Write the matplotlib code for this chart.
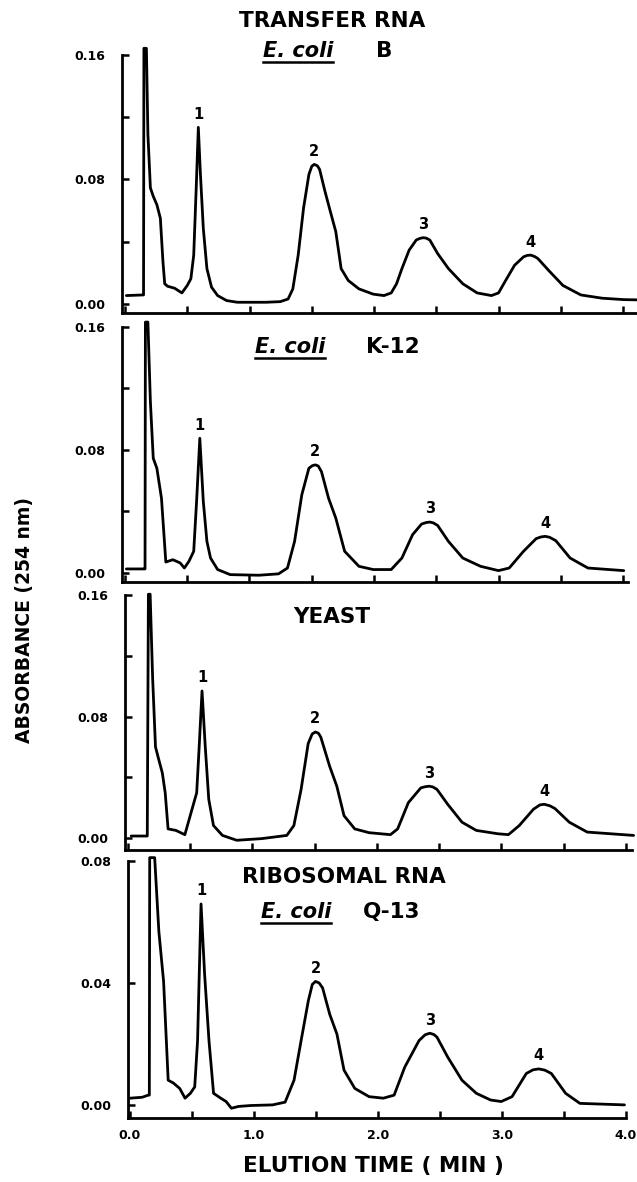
import numpy as np
import matplotlib
matplotlib.use("Agg")
import matplotlib.pyplot as plt
from matplotlib.lines import Line2D
from matplotlib.transforms import IdentityTransform

# ---------------- data ----------------
# Panel 1: Transfer RNA, E. coli B
p1_time = [0.011, 0.144, 0.149, 0.152, 0.172, 0.184, 0.204, 0.227, 0.256, 0.284,
           0.305, 0.319, 0.342, 0.399, 0.457, 0.500, 0.529, 0.552, 0.572, 0.589,
           0.606, 0.629, 0.658, 0.695, 0.744, 0.816, 0.902, 1.132, 1.247, 1.310,
           1.348, 1.391, 1.434, 1.477, 1.500, 1.520, 1.545, 1.563, 1.606, 1.649,
           1.693, 1.736, 1.793, 1.879, 1.994, 2.080, 2.138, 2.181, 2.224, 2.282,
           2.339, 2.370, 2.397, 2.420, 2.448, 2.511, 2.598, 2.713, 2.828, 2.943,
           3.000, 3.057, 3.129, 3.201, 3.230, 3.259, 3.290, 3.316, 3.402, 3.517,
           3.661, 3.833, 4.006, 4.144]
p1_abs = [0.0054, 0.0058, 0.0058, 0.1643, 0.1643, 0.1092, 0.0746, 0.0692, 0.0638, 0.0551,
          0.0270, 0.0130, 0.0114, 0.0101, 0.0071, 0.0119, 0.0162, 0.0314, 0.0746, 0.1135,
          0.0832, 0.0486, 0.0227, 0.0108, 0.0054, 0.0022, 0.0011, 0.0011, 0.0015, 0.0032,
          0.0097, 0.0314, 0.0616, 0.0832, 0.0885, 0.0897, 0.0888, 0.0865, 0.0724, 0.0595,
          0.0465, 0.0227, 0.0151, 0.0097, 0.0063, 0.0054, 0.0071, 0.0130, 0.0227, 0.0346,
          0.0411, 0.0422, 0.0426, 0.0423, 0.0411, 0.0324, 0.0227, 0.0130, 0.0071, 0.0054,
          0.0071, 0.0151, 0.0249, 0.0303, 0.0312, 0.0314, 0.0305, 0.0292, 0.0216, 0.0119,
          0.0058, 0.0037, 0.0028, 0.0026]
p1_peak_time = [0.589, 1.520, 2.397, 3.259]
p1_peak_abs = [0.1135, 0.0897, 0.0426, 0.0314]

# Panel 2: Transfer RNA, E. coli K-12
p2_time = [0.011, 0.155, 0.161, 0.164, 0.184, 0.204, 0.227, 0.256, 0.293, 0.328,
           0.385, 0.443, 0.477, 0.514, 0.552, 0.575, 0.601, 0.629, 0.658, 0.687,
           0.744, 0.845, 1.075, 1.233, 1.305, 1.362, 1.420, 1.477, 1.505, 1.529,
           1.552, 1.578, 1.635, 1.693, 1.764, 1.879, 1.994, 2.138, 2.224, 2.310,
           2.382, 2.420, 2.448, 2.475, 2.511, 2.598, 2.713, 2.856, 3.000, 3.086,
           3.201, 3.302, 3.340, 3.374, 3.410, 3.460, 3.575, 3.718, 4.006]
p2_abs = [0.0026, 0.0026, 0.0026, 0.1632, 0.1632, 0.1114, 0.0746, 0.0681, 0.0486, 0.0071,
          0.0086, 0.0065, 0.0032, 0.0076, 0.0141, 0.0465, 0.0876, 0.0465, 0.0205, 0.0097,
          0.0022, -0.0011, -0.0015, -0.0006, 0.0032, 0.0205, 0.0508, 0.0681, 0.0698, 0.0703,
          0.0696, 0.0659, 0.0486, 0.0357, 0.0141, 0.0043, 0.0022, 0.0022, 0.0097, 0.0249,
          0.0318, 0.0328, 0.0331, 0.0326, 0.0309, 0.0205, 0.0097, 0.0043, 0.0015, 0.0032,
          0.0141, 0.0223, 0.0234, 0.0238, 0.0232, 0.0210, 0.0097, 0.0032, 0.0015]
p2_peak_time = [0.601, 1.529, 2.448, 3.374]
p2_peak_abs = [0.0876, 0.0703, 0.0331, 0.0238]

# Panel 3: Transfer RNA, yeast
p3_time = [0.026, 0.155, 0.164, 0.178, 0.198, 0.221, 0.241, 0.276, 0.299, 0.322,
           0.385, 0.457, 0.500, 0.552, 0.572, 0.595, 0.621, 0.649, 0.687, 0.759,
           0.874, 1.075, 1.276, 1.333, 1.391, 1.448, 1.480, 1.506, 1.530, 1.549,
           1.621, 1.678, 1.736, 1.822, 1.937, 2.109, 2.167, 2.253, 2.353, 2.390,
           2.420, 2.450, 2.483, 2.569, 2.684, 2.799, 2.971, 3.057, 3.144, 3.259,
           3.310, 3.345, 3.390, 3.431, 3.546, 3.690, 4.063]
p3_abs = [0.0013, 0.0013, 0.1605, 0.1605, 0.1054, 0.0600, 0.0536, 0.0428, 0.0298, 0.0060,
          0.0050, 0.0022, 0.0147, 0.0298, 0.0600, 0.0968, 0.0600, 0.0255, 0.0082, 0.0017,
          -0.0015, -0.0004, 0.0017, 0.0082, 0.0320, 0.0622, 0.0685, 0.0698, 0.0690, 0.0665,
          0.0471, 0.0341, 0.0147, 0.0060, 0.0035, 0.0022, 0.0060, 0.0233, 0.0330, 0.0338,
          0.0341, 0.0336, 0.0320, 0.0222, 0.0104, 0.0050, 0.0028, 0.0022, 0.0082, 0.0190,
          0.0218, 0.0222, 0.0212, 0.0194, 0.0104, 0.0039, 0.0017]
p3_peak_time = [0.595, 1.506, 2.420, 3.345]
p3_peak_abs = [0.0968, 0.0698, 0.0341, 0.0222]

# Panel 4: Ribosomal RNA, E. coli Q-13
p4_time = [0.000, 0.098, 0.147, 0.156, 0.159, 0.199, 0.233, 0.271, 0.308, 0.349,
           0.401, 0.444, 0.487, 0.522, 0.545, 0.573, 0.602, 0.637, 0.674, 0.732,
           0.775, 0.818, 0.876, 0.977, 1.150, 1.251, 1.323, 1.380, 1.438, 1.470,
           1.496, 1.525, 1.553, 1.611, 1.669, 1.726, 1.813, 1.928, 2.043, 2.130,
           2.216, 2.331, 2.380, 2.418, 2.450, 2.476, 2.562, 2.677, 2.793, 2.908,
           2.994, 3.081, 3.196, 3.250, 3.297, 3.345, 3.398, 3.513, 3.628, 3.988]
p4_abs = [0.0022, 0.0025, 0.0032, 0.0032, 0.0811, 0.0811, 0.0568, 0.0405, 0.0081, 0.0072,
          0.0054, 0.0022, 0.0038, 0.0059, 0.0211, 0.0659, 0.0427, 0.0211, 0.0038, 0.0022,
          0.0011, -0.0011, -0.0005, -0.0002, 0.0000, 0.0009, 0.0081, 0.0211, 0.0341, 0.0395,
          0.0405, 0.0400, 0.0384, 0.0297, 0.0232, 0.0114, 0.0054, 0.0027, 0.0022, 0.0032,
          0.0124, 0.0211, 0.0230, 0.0235, 0.0231, 0.0222, 0.0157, 0.0081, 0.0038, 0.0016,
          0.0011, 0.0027, 0.0103, 0.0115, 0.0118, 0.0114, 0.0103, 0.0038, 0.0005, 0.0000]
p4_peak_time = [0.573, 1.496, 2.418, 3.297]
p4_peak_abs = [0.0659, 0.0405, 0.0235, 0.0118]

peak_labels = ["1", "2", "3", "4"]
yticks_trna = [0.00, 0.04, 0.08, 0.12, 0.16]
yticklabels_trna = ["0.00", "", "0.08", "", "0.16"]
yticks_rrna = [0.00, 0.04, 0.08]
yticklabels_rrna = ["0.00", "0.04", "0.08"]
xticks_major = [0.0, 1.0, 2.0, 3.0, 4.0]
xticklabels = ["0.0", "1.0", "2.0", "3.0", "4.0"]
xticks_minor = [0.5, 1.5, 2.5, 3.5]

# ---------------- figure ----------------
W, H = 637, 1182
plt.rcParams["font.family"] = ["DejaVu Sans"]
fig = plt.figure(figsize=(W / 100, H / 100), dpi=100)


def box(left, top, right, bottom):
    return [left / W, 1 - bottom / H, (right - left) / W, (bottom - top) / H]


panels = [
    dict(rect=box(122, 55, 637, 313), t=p1_time, a=p1_abs, pt=p1_peak_time, pa=p1_peak_abs,
         xlim=(-0.024, 4.112), ylim=(-0.0058, 0.16), yt=yticks_trna, ytl=yticklabels_trna,
         xlab=False),
    dict(rect=box(122, 327, 628, 582), t=p2_time, a=p2_abs, pt=p2_peak_time, pa=p2_peak_abs,
         xlim=(-0.024, 4.04), ylim=(-0.0059, 0.16), yt=yticks_trna, ytl=yticklabels_trna,
         xlab=False),
    dict(rect=box(125, 595, 632, 850), t=p3_time, a=p3_abs, pt=p3_peak_time, pa=p3_peak_abs,
         xlim=(-0.024, 4.05), ylim=(-0.0079, 0.16), yt=yticks_trna, ytl=yticklabels_trna,
         xlab=False),
    dict(rect=box(128, 861, 626, 1118), t=p4_time, a=p4_abs, pt=p4_peak_time, pa=p4_peak_abs,
         xlim=(-0.016, 4.0), ylim=(-0.0043, 0.08), yt=yticks_rrna, ytl=yticklabels_rrna,
         xlab=True),
]

axes = []
for p in panels:
    ax = fig.add_axes(p["rect"])
    ax.plot(p["t"], p["a"], color="black", lw=2.0, solid_joinstyle="round",
            solid_capstyle="round", clip_on=False)
    ax.set_xlim(*p["xlim"])
    ax.set_ylim(*p["ylim"])
    for s in ("top", "right"):
        ax.spines[s].set_visible(False)
    for s in ("left", "bottom"):
        ax.spines[s].set_linewidth(2.0)
    ax.set_yticks(p["yt"])
    ax.set_yticklabels(p["ytl"], fontsize=9, fontweight="bold")
    ax.set_xticks(xticks_major)
    ax.set_xticks(xticks_minor, minor=True)
    if p["xlab"]:
        ax.set_xticklabels(xticklabels, fontsize=9, fontweight="bold")
    else:
        ax.set_xticklabels([])
    ax.tick_params(axis="both", which="both", direction="in", length=5, width=1.8)
    ax.tick_params(axis="y", pad=12)
    ax.tick_params(axis="x", pad=8)
    for lab, x, y in zip(peak_labels, p["pt"], p["pa"]):
        ax.annotate(lab, xy=(x, y), xytext=(0, 4), textcoords="offset points",
                    ha="center", va="bottom", fontsize=10.5, fontweight="bold")
    axes.append(ax)


def ftext(px, py, s, **kw):
    return fig.text(px / W, 1 - py / H, s, ha="center", va="center", **kw)


title_kw = dict(fontsize=15.5, fontweight="bold")
ital_kw = dict(fontsize=15, fontweight="bold", style="italic")

ftext(332, 21, "TRANSFER RNA", **title_kw)
ecoli = [ftext(298, 51, "E. coli", **ital_kw)]
ftext(384, 51, "B", **title_kw)

ecoli.append(ftext(290, 347, "E. coli", **ital_kw))
ftext(393, 347, "K-12", **title_kw)

ftext(332, 617, "YEAST", **title_kw)

ftext(344, 877, "RIBOSOMAL RNA", **title_kw)
ecoli.append(ftext(296, 912, "E. coli", **ital_kw))
ftext(392, 912, "Q-13", **title_kw)

fig.text(25 / W, 1 - 620 / H, "ABSORBANCE (254 nm)", rotation=90, ha="center", va="center",
         fontsize=13.5, fontweight="bold")
ftext(373, 1166, "ELUTION TIME ( MIN )", fontsize=15.5, fontweight="bold")

# underline the italic organism names
fig.canvas.draw()
renderer = fig.canvas.get_renderer()
for t in ecoli:
    bb = t.get_window_extent(renderer)
    fig.add_artist(Line2D([bb.x0, bb.x1], [bb.y0 - 1, bb.y0 - 1], transform=IdentityTransform(),
                          color="black", lw=1.8))

fig.savefig("out.png", dpi=100)
